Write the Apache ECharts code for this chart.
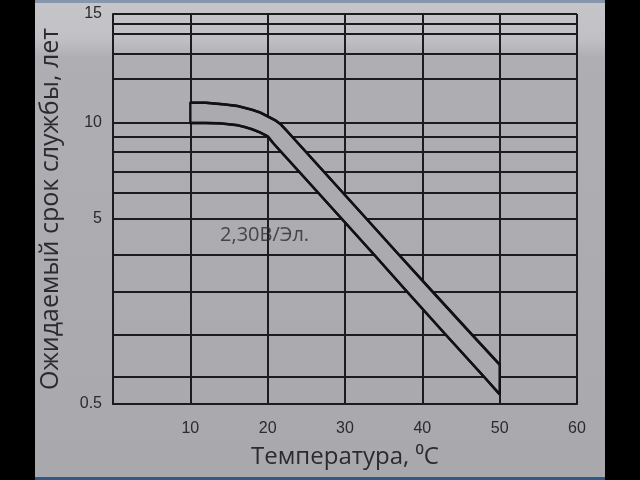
<!DOCTYPE html>
<html><head><meta charset="utf-8">
<script src="https://cdn.jsdelivr.net/npm/echarts@6/dist/echarts.min.js"></script>
<style>html,body{margin:0;padding:0;background:#aaa9ae}#c{width:640px;height:480px}</style>
</head><body><div id="c"></div>
<script>
// Printed (non-uniform) life scale: gridline values and their relative scale positions
const yLevels   = [0.5, 1, 2, 3, 4, 5, 6, 7, 8, 9, 10, 11, 12, 13, 14, 15];
const yLevelPos = [0, 27, 69.5, 112.5, 149, 185, 211.5, 232, 252, 267, 281, 325, 350, 370, 380, 390];
const yLabelValues = [0.5, 5, 10, 15];
const xLabelValues = [10, 20, 30, 40, 50, 60];

// Upper curve (temperature °C, life years)
const upperTemp = [10, 12, 14, 16, 18, 19, 20, 21, 21.6, 22.3, 23.2, 24.96, 27.3, 29.7, 32.8, 37.0, 41.3, 46.4, 50];
const upperLife = [10.46, 10.46, 10.43, 10.39, 10.3, 10.24, 10.15, 10.06, 9.95, 9.55, 9, 8, 7, 6, 5, 4, 3, 2, 1.29];
// Lower curve
const lowerTemp = [10, 12, 14, 16, 17, 18, 19, 20, 20.7, 21.75, 24.1, 26.5, 29.6, 33.8, 38.0, 43.0, 48.0, 50];
const lowerLife = [10, 10, 9.97, 9.85, 9.72, 9.55, 9.33, 9.05, 8.6, 8, 7, 6, 5, 4, 3, 2, 1, 0.68];

const noteText = '2,30В/Эл.';
const noteTemp = 19.6;
const noteLife = 4.56;

function toScale(v) {
  for (let i = 0; i < yLevels.length - 1; i++) {
    if (v <= yLevels[i + 1]) {
      const t = (v - yLevels[i]) / (yLevels[i + 1] - yLevels[i]);
      return yLevelPos[i] + t * (yLevelPos[i + 1] - yLevelPos[i]);
    }
  }
  return yLevelPos[yLevelPos.length - 1];
}
function fromScale(p) {
  const i = yLevelPos.findIndex(q => Math.abs(q - p) < 1e-6);
  return i >= 0 ? String(yLevels[i]) : '';
}

const gridColor = '#1c1c1e';
const textColor = '#2b2b2e';
const paper = '#abaaaf';
const titleFont = 'Open Sans, Noto Sans, DejaVu Sans';

const chart = echarts.init(document.getElementById('c'), null, {renderer: 'canvas'});
chart.setOption({
  animation: false,
  backgroundColor: {type: 'linear', x: 0, y: 0, x2: 0, y2: 1, colorStops: [
    {offset: 0, color: '#c6c6ca'}, {offset: 0.08, color: '#c1c1c5'},
    {offset: 0.12, color: '#afaeb3'}, {offset: 1, color: '#a9a8ad'}]},
  grid: {left: 113, right: 63, top: 14, bottom: 76, show: false},
  xAxis: {
    type: 'value', min: 0, max: 60, interval: 10,
    axisLine: {show: true, lineStyle: {color: gridColor, width: 2}},
    axisTick: {show: false},
    axisLabel: {customValues: xLabelValues, margin: 17, fontFamily: 'Liberation Sans', fontSize: 16, color: textColor},
    splitLine: {show: true, lineStyle: {color: gridColor, width: 2}},
    name: 'Температура, ⁰C', nameLocation: 'middle', nameGap: 41,
    nameTextStyle: {fontFamily: titleFont, fontSize: 24, color: textColor}
  },
  yAxis: {
    type: 'value', min: 0, max: 390,
    axisLine: {show: true, lineStyle: {color: gridColor, width: 2}},
    axisTick: {show: false, customValues: yLevelPos},
    axisLabel: {customValues: yLabelValues.map(toScale), formatter: fromScale, margin: 11,
      fontFamily: 'Liberation Sans', fontSize: 16, color: textColor},
    splitLine: {show: true, lineStyle: {color: gridColor, width: 2}},
    name: 'Ожидаемый срок службы, лет', nameLocation: 'middle', nameGap: 50, nameRotate: 90,
    nameTextStyle: {fontFamily: titleFont, fontSize: 25, color: textColor}
  },
  graphic: [
    {type: 'rect', shape: {x: 0, y: 0, width: 35, height: 480}, style: {fill: '#000'}, z: 100},
    {type: 'rect', shape: {x: 605, y: 0, width: 35, height: 480}, style: {fill: '#000'}, z: 100},
    {type: 'rect', shape: {x: 35, y: 0, width: 570, height: 3}, style: {fill: '#8797ab'}, z: 100},
    {type: 'rect', shape: {x: 35, y: 477, width: 570, height: 3}, style: {fill: '#2f5a86'}, z: 100}
  ],
  series: [
    {
      type: 'custom', z: 2, silent: true, data: [[0, 0]],
      renderItem: function (params, api) {
        const pts = upperTemp.map((t, i) => api.coord([t, toScale(upperLife[i])]));
        for (let i = lowerTemp.length - 1; i >= 0; i--) pts.push(api.coord([lowerTemp[i], toScale(lowerLife[i])]));
        return {type: 'polygon', shape: {points: pts}, style: {fill: paper, stroke: '#111', lineWidth: 2.4, lineJoin: 'round'}};
      }
    },
    {
      type: 'line', z: 3, showSymbol: false, smooth: false,
      data: upperTemp.map((t, i) => [t, toScale(upperLife[i])]),
      lineStyle: {color: '#111', width: 2.6, join: 'round'}
    },
    {
      type: 'line', z: 3, showSymbol: false, smooth: false,
      data: lowerTemp.map((t, i) => [t, toScale(lowerLife[i])]),
      lineStyle: {color: '#111', width: 2.6, join: 'round'}
    },
    {
      type: 'scatter', z: 4, symbolSize: 1, itemStyle: {color: 'transparent'},
      data: [[noteTemp, toScale(noteLife)]],
      label: {show: true, position: 'inside', formatter: noteText,
        fontFamily: titleFont, fontSize: 20, color: textColor}
    }
  ]
});
</script></body></html>
